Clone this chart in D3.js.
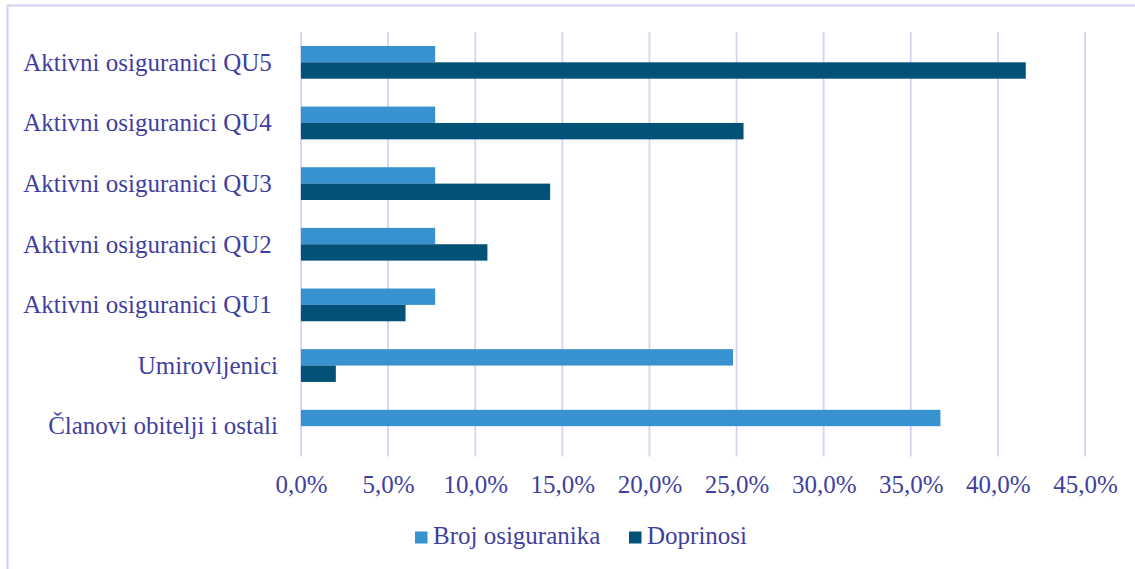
<!DOCTYPE html>
<html>
<head>
<meta charset="utf-8">
<script src="https://cdn.jsdelivr.net/npm/d3@7"></script>
<style>
  body { margin: 0; background: #fff; }
  svg text { font-family: "Liberation Serif", Tinos, "Times New Roman", Times, serif; fill: #3f3fa0; white-space: pre; }
</style>
</head>
<body>
<svg id="chart"></svg>
<script>
// data (shares, 0..1)
// the "Aktivni" labels carry a trailing space in the source, so they sit a bit further left
const categories = [
  "Aktivni osiguranici QU5 ",
  "Aktivni osiguranici QU4 ",
  "Aktivni osiguranici QU3 ",
  "Aktivni osiguranici QU2 ",
  "Aktivni osiguranici QU1 ",
  "Umirovljenici",
  "Članovi obitelji i ostali"
];
const seriesNames = ["Broj osiguranika", "Doprinosi"];
const brojOsiguranika = [0.077, 0.077, 0.077, 0.077, 0.077, 0.248, 0.367];
const doprinosi = [0.416, 0.254, 0.143, 0.107, 0.060, 0.020, 0];
const xTicks = [0, 0.05, 0.10, 0.15, 0.20, 0.25, 0.30, 0.35, 0.40, 0.45];

const W = 1135, H = 569;
const colors = {"Broj osiguranika": "#3792cf", "Doprinosi": "#025177"};
const fontSize = 25;
const serif = "'Liberation Serif', Tinos, 'Times New Roman', serif";

const svg = d3.select("#chart").attr("width", W).attr("height", H)
  .attr("font-family", serif);

// outer frame
svg.append("rect")
  .attr("x", 7.5).attr("y", 5.5)
  .attr("width", W).attr("height", H)
  .attr("fill", "none")
  .attr("stroke", "#d3d0ee")
  .attr("stroke-width", 2);

const x = d3.scaleLinear().domain([0, 0.45]).range([301, 1085]);
const y = d3.scaleBand().domain(categories).range([32, 456.5])
  .paddingInner(0.46).paddingOuter(0.23);
const ySub = d3.scaleBand().domain(seriesNames).range([0, y.bandwidth()]);

const locale = d3.formatLocale({decimal: ",", thousands: ".", grouping: [3], currency: ["", " €"]});
const pct = locale.format(".1%");

// gridlines
svg.append("g").selectAll("line")
  .data(xTicks)
  .join("line")
  .attr("x1", d => x(d)).attr("x2", d => x(d))
  .attr("y1", 32).attr("y2", 456.5)
  .attr("stroke", "#d6d2f0")
  .attr("stroke-width", 1.8);

// bars
const rows = categories.map((c, i) => ({
  cat: c,
  vals: [
    {key: "Broj osiguranika", value: brojOsiguranika[i]},
    {key: "Doprinosi", value: doprinosi[i]}
  ]
}));

const groups = svg.append("g").selectAll("g")
  .data(rows)
  .join("g")
  .attr("transform", d => `translate(0, ${y(d.cat)})`);

groups.selectAll("rect")
  .data(d => d.vals.filter(v => v.value > 0))
  .join("rect")
  .attr("x", x(0))
  .attr("y", d => ySub(d.key))
  .attr("width", d => x(d.value) - x(0))
  .attr("height", ySub.bandwidth())
  .attr("fill", d => colors[d.key]);

// y axis labels
const yAxis = d3.axisLeft(y).tickSize(0).tickPadding(0);
const yg = svg.append("g").attr("transform", "translate(278, 0)").call(yAxis)
  .attr("font-family", serif).attr("font-size", fontSize);
yg.select(".domain").remove();
yg.selectAll("text")
  .attr("fill", null)
  .attr("dy", "0.33em");

// x axis labels
const xAxis = d3.axisBottom(x).tickValues(xTicks).tickFormat(pct).tickSize(0).tickPadding(19);
const xg = svg.append("g").attr("transform", "translate(0, 456.5)").call(xAxis)
  .attr("font-family", serif).attr("font-size", fontSize);
xg.select(".domain").remove();
xg.selectAll("text")
  .attr("fill", null);

// legend
const legendX = [415, 629];
const legend = svg.append("g").selectAll("g")
  .data(seriesNames)
  .join("g")
  .attr("transform", (d, i) => `translate(${legendX[i]}, 531.5)`);

legend.append("rect")
  .attr("width", 12.5).attr("height", 12)
  .attr("fill", d => colors[d]);

legend.append("text")
  .attr("x", 18)
  .attr("y", 12.8)
  .attr("font-size", fontSize)
  .text(d => d);
</script>
</body>
</html>
